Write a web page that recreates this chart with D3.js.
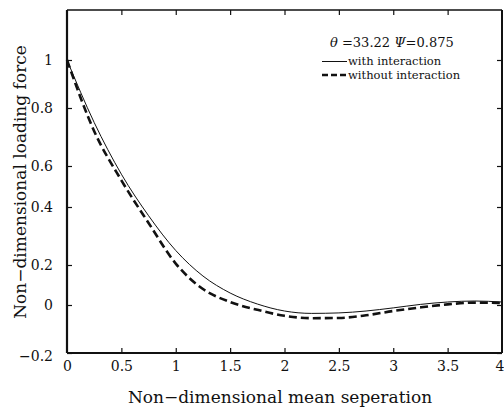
<!DOCTYPE html>
<html>
<head>
<meta charset="utf-8">
<script src="https://cdn.jsdelivr.net/npm/d3@7/dist/d3.min.js"></script>
<style>
  html, body { margin: 0; padding: 0; background: #fff; }
  svg { display: block; }
  text { font-family: "DejaVu Serif", "Liberation Serif", serif; fill: #111; }
</style>
</head>
<body>
<svg id="chart" width="504" height="412"></svg>
<script>
// ---- data ----
const xTicks = [0, 0.5, 1, 1.5, 2, 2.5, 3, 3.5, 4];
const xTickLabels = ["0", "0.5", "1", "1.5", "2", "2.5", "3", "3.5", "4"];
const yTicks = [-0.2, 0, 0.2, 0.4, 0.6, 0.8, 1];
const yTickLabels = ["\u22120.2", "0", "0.2", "0.4", "0.6", "0.8", "1"];
const separation = [0, 0.25, 0.5, 0.75, 1, 1.25, 1.5, 1.75, 2, 2.25, 2.5, 2.75, 3, 3.25, 3.5, 3.75, 4];
const withInteraction = [1.0, 0.75, 0.56, 0.37, 0.25, 0.145, 0.06, 0.005, -0.025, -0.035, -0.033, -0.025, -0.012, 0.003, 0.015, 0.02, 0.015];
const withoutInteraction = [1.0, 0.72, 0.53, 0.345, 0.205, 0.08, 0.015, -0.02, -0.045, -0.055, -0.054, -0.043, -0.025, -0.01, 0.003, 0.012, 0.01];
const seriesNames = ["with interaction", "without interaction"];
const xTitle = "Non\u2212dimensional mean seperation";
const yTitle = "Non\u2212dimensional loading force";

// ---- scales ----
const svg = d3.select("#chart");
const x = d3.scaleLinear().domain([0, 4]).range([67, 502]);
const y = d3.scaleLinear()
  .domain([-0.2, 0, 0.2, 0.4, 0.6, 0.8, 1, 1.2])
  .range([353, 305, 265, 207, 166, 108, 60, 10]);

// ---- axes ----
const fmtX = d => xTickLabels[xTicks.indexOf(d)];
const fmtY = d => yTickLabels[yTicks.indexOf(d)];

const gB = svg.append("g").attr("transform", `translate(0,${y(-0.2)})`)
  .call(d3.axisBottom(x).tickValues(xTicks).tickSize(-5).tickPadding(8).tickFormat(fmtX));
const gL = svg.append("g").attr("transform", `translate(${x(0)},0)`)
  .call(d3.axisLeft(y).tickValues(yTicks).tickSize(-5).tickPadding(14).tickFormat(fmtY));
const gT = svg.append("g").attr("transform", `translate(0,${y(1.2)})`)
  .call(d3.axisTop(x).tickValues(xTicks).tickSize(-5).tickFormat(""));
const gR = svg.append("g").attr("transform", `translate(${x(4)},0)`)
  .call(d3.axisRight(y).tickValues(yTicks).tickSize(-5).tickFormat(""));

[gB, gL, gT, gR].forEach(g => {
  g.select(".domain").remove();
  g.selectAll(".tick line").attr("stroke", "#111").attr("stroke-width", 1.2);
  g.selectAll("text").attr("font-size", 14).attr("fill", "#111")
    .style("font-family", "'DejaVu Serif', serif");
});
gB.selectAll(".tick").filter(d => d === 0 || d === 4).select("line").remove();
gT.selectAll(".tick").filter(d => d === 0 || d === 4).select("line").remove();
// keep the last x label inside the picture
gB.selectAll(".tick").filter(d => d === 4).select("text").attr("text-anchor", "end").attr("x", 2);
gL.selectAll(".tick").filter(d => d === -0.2).select("text").attr("dy", "0.5em");

// ---- frame ----
const x0 = x(0), x1 = x(4), yTop = y(1.2), yBot = y(-0.2);
svg.append("line").attr("x1", x0).attr("x2", x0).attr("y1", yTop).attr("y2", yBot)
  .attr("stroke", "#111").attr("stroke-width", 2.2);
svg.append("line").attr("x1", x0).attr("x2", x1).attr("y1", yBot).attr("y2", yBot)
  .attr("stroke", "#111").attr("stroke-width", 2);
svg.append("line").attr("x1", x1).attr("x2", x1).attr("y1", yTop).attr("y2", yBot)
  .attr("stroke", "#111").attr("stroke-width", 2);
svg.append("line").attr("x1", x0).attr("x2", x1).attr("y1", yTop).attr("y2", yTop)
  .attr("stroke", "#111").attr("stroke-width", 1.6);

// ---- curves ----
const line = d3.line().x(d => x(d[0])).y(d => y(d[1])).curve(d3.curveMonotoneX);
svg.append("path")
  .datum(separation.map((s, i) => [s, withInteraction[i]]))
  .attr("d", line).attr("fill", "none").attr("stroke", "#111").attr("stroke-width", 1);
svg.append("path")
  .datum(separation.map((s, i) => [s, withoutInteraction[i]]))
  .attr("d", line).attr("fill", "none").attr("stroke", "#111")
  .attr("stroke-width", 2.6).attr("stroke-dasharray", "8,4");

// ---- legend ----
const lg = svg.append("g");
const head = lg.append("text").attr("x", 330).attr("y", 47).attr("font-size", 13);
head.append("tspan").attr("font-style", "italic").text("\u03B8");
head.append("tspan").text(" =33.22 ");
head.append("tspan").attr("font-style", "italic").text("\u03A8");
head.append("tspan").text("=0.875");

lg.append("line").attr("x1", 322).attr("x2", 347).attr("y1", 61.5).attr("y2", 61.5)
  .attr("stroke", "#111").attr("stroke-width", 1);
lg.append("text").attr("x", 348).attr("y", 65).attr("font-size", 11.5).text(seriesNames[0]);
lg.append("line").attr("x1", 322).attr("x2", 347).attr("y1", 75).attr("y2", 75)
  .attr("stroke", "#111").attr("stroke-width", 2.6).attr("stroke-dasharray", "6,3");
lg.append("text").attr("x", 348).attr("y", 78.5).attr("font-size", 11.5).text(seriesNames[1]);

// ---- titles ----
svg.append("text").attr("x", 280).attr("y", 403).attr("text-anchor", "middle")
  .attr("font-size", 17).text(xTitle);
svg.append("text").attr("transform", "translate(26,182) rotate(-90)")
  .attr("text-anchor", "middle").attr("font-size", 17).text(yTitle);
</script>
</body>
</html>
